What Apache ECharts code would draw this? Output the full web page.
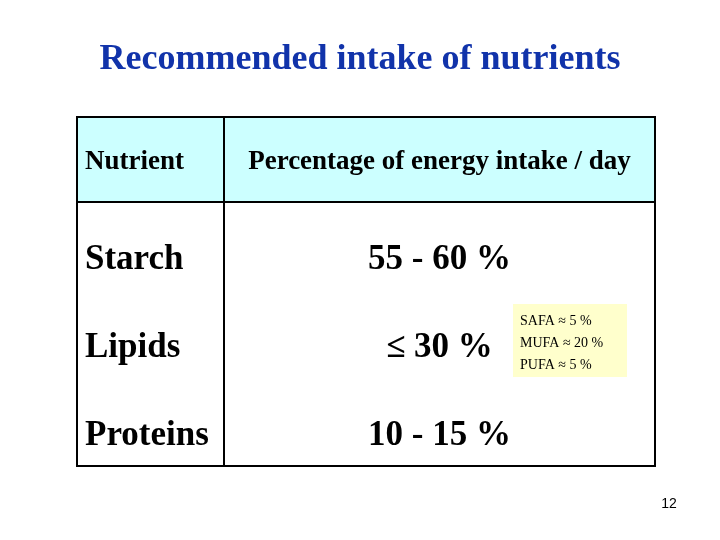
<!DOCTYPE html>
<html>
<head>
<meta charset="utf-8">
<script src="https://cdn.jsdelivr.net/npm/echarts@6/dist/echarts.min.js"></script>
<style>
  html, body { margin: 0; padding: 0; background: #fff; }
  #chart { width: 720px; height: 540px; }
</style>
</head>
<body>
<div id="chart"></div>
<script>
const titleText = 'Recommended intake of nutrients'
const headers = ['Nutrient', 'Percentage of energy intake / day']
const nutrients = ['Starch', 'Lipids', 'Proteins']
const energyShares = ['55 - 60 %', '\u2264 30 %', '10 - 15 %']
const fattyAcids = ['SAFA \u2248 5 %', 'MUFA \u2248 20 %', 'PUFA \u2248 5 %']
const slideNumber = '12'

const serif = '"Liberation Serif", "Times New Roman", serif'
const table = { left: 77, right: 655, top: 117, headerBottom: 202, bottom: 466, split: 224 }
const rowHeight = (table.bottom - table.headerBottom) / nutrients.length
const colCenter = (table.split + table.right) / 2

const elements = []

// header fill and table frame
elements.push({
  type: 'rect',
  shape: { x: table.left, y: table.top, width: table.right - table.left, height: table.headerBottom - table.top },
  style: { fill: '#ccffff' }
})
elements.push({
  type: 'rect',
  shape: { x: table.left, y: table.top, width: table.right - table.left, height: table.bottom - table.top },
  style: { fill: null, stroke: '#000', lineWidth: 2 }
})
elements.push({
  type: 'line',
  shape: { x1: table.left, y1: table.headerBottom, x2: table.right, y2: table.headerBottom },
  style: { stroke: '#000', lineWidth: 2 }
})
elements.push({
  type: 'line',
  shape: { x1: table.split, y1: table.top, x2: table.split, y2: table.bottom },
  style: { stroke: '#000', lineWidth: 2 }
})

// header texts
const headerY = (table.top + table.headerBottom) / 2 + 3
elements.push({
  type: 'text', x: 85, y: headerY,
  style: { text: headers[0], font: 'bold 27px ' + serif, fill: '#000', textAlign: 'left', textVerticalAlign: 'middle' }
})
elements.push({
  type: 'text', x: colCenter, y: headerY,
  style: { text: headers[1], font: 'bold 27px ' + serif, fill: '#000', textAlign: 'center', textVerticalAlign: 'middle' }
})

// body rows
nutrients.forEach((name, i) => {
  const y = table.headerBottom + rowHeight * (i + 0.5) + 14
  elements.push({
    type: 'text', x: 85, y,
    style: { text: name, font: 'bold 35px ' + serif, fill: '#000', textAlign: 'left', textVerticalAlign: 'middle' }
  })
  elements.push({
    type: 'text', x: colCenter, y,
    style: { text: energyShares[i], font: 'bold 35px ' + serif, fill: '#000', textAlign: 'center', textVerticalAlign: 'middle' }
  })
})

// fatty acid note box
const note = { x: 513, y: 304, width: 114, height: 73 }
elements.push({
  type: 'rect',
  shape: note,
  style: { fill: '#ffffcc' }
})
fattyAcids.forEach((t, i) => {
  elements.push({
    type: 'text', x: note.x + 7, y: note.y + 17 + i * 22,
    style: { text: t, font: '14px ' + serif, fill: '#000', textAlign: 'left', textVerticalAlign: 'middle' }
  })
})

// slide number
elements.push({
  type: 'text', x: 669, y: 504,
  style: { text: slideNumber, font: '14px "Liberation Sans", Arial, sans-serif', fill: '#000', textAlign: 'center', textVerticalAlign: 'middle' }
})

const chart = echarts.init(document.getElementById('chart'))
chart.setOption({
  animation: false,
  backgroundColor: '#fff',
  title: {
    text: titleText,
    left: 'center',
    top: 37,
    textStyle: { fontFamily: serif, fontWeight: 'bold', fontSize: 36, color: '#1133aa' }
  },
  graphic: { elements }
})
</script>
</body>
</html>
